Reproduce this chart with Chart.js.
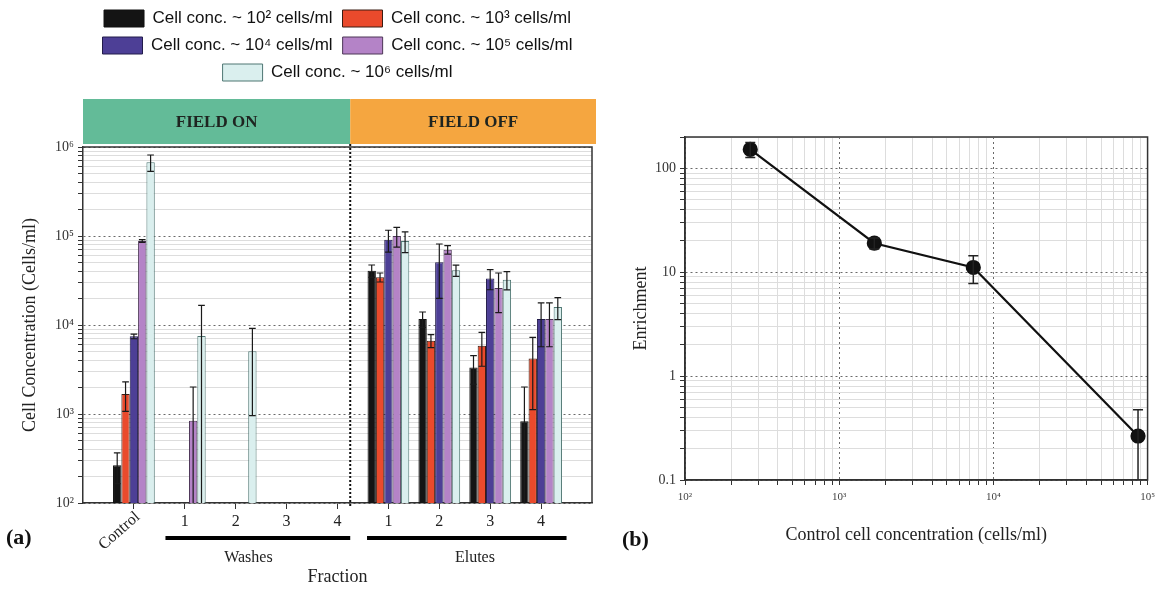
<!DOCTYPE html>
<html>
<head>
<meta charset="utf-8">
<title>Cell concentration and enrichment</title>
<script src="https://cdn.jsdelivr.net/npm/chart.js@4.4.1/dist/chart.umd.min.js"></script>
<style>
    html, body { margin: 0; padding: 0; background: #fff; }
    #wrap { position: relative; width: 1161px; height: 591px; }
    #left { position: absolute; left: 0; top: 0; width: 600px; height: 591px; }
    #right { position: absolute; left: 600px; top: 0; width: 561px; height: 591px; }
</style>
</head>
<body>
<div id="wrap">
    <div id="left"><canvas id="barChart"></canvas></div>
    <div id="right"><canvas id="lineChart"></canvas></div>
</div>
<script>
// ---- data (a): cell concentration per fraction ----
const fractions = ['Control', '1', '2', '3', '4', '1', '2', '3', '4'];
const fractionPos = [1, 2, 3, 4, 5, 6, 7, 8, 9];
const seriesLabels = [
    'Cell conc. ~ 10² cells/ml',
    'Cell conc. ~ 10³ cells/ml',
    'Cell conc. ~ 10⁴ cells/ml',
    'Cell conc. ~ 10⁵ cells/ml',
    'Cell conc. ~ 10⁶ cells/ml',
];
const conc1e2 = [265, null, null, null, null, 40700, 11700, 3340, 830];
const conc1e2Err = [100, null, null, null, null, 6500, 2300, 1180, 1180];
const conc1e3 = [1680, null, null, null, null, 34400, 6670, 5860, 4190];
const conc1e3Err = [610, null, null, null, null, 4000, 1110, 2420, 3070];
const conc1e4 = [7460, null, null, null, null, 91000, 50600, 33400, 11700];
const conc1e4Err = [450, null, null, null, null, 25000, 30700, 8500, 6000];
const conc1e5 = [88000, 840, null, null, null, 100000, 70200, 26100, 11700];
const conc1e5Err = [3000, 1170, null, null, null, 25000, 7700, 12300, 6000];
const conc1e6 = [673000, 7500, 5060, null, null, 88000, 41100, 32300, 15900];
const conc1e6Err = [140000, 9100, 4100, null, null, 23000, 6000, 7500, 4400];
const phaseLabels = ['FIELD ON', 'FIELD OFF'];
const groupLabels = ['Washes', 'Elutes'];

// ---- data (b): enrichment vs control concentration ----
const controlConc = [265, 1690, 7410, 86700];
const enrichment = [152, 19.0, 11.1, 0.265];
const enrichmentErr = [25, 2.3, 3.3, 0.21];

const SERIF = '"Liberation Serif", "Times New Roman", serif';
const SANS = '"Liberation Sans", Arial, sans-serif';
const SUP = { 0: '⁰', 1: '¹', 2: '²', 3: '³', 4: '⁴', 5: '⁵', 6: '⁶' };

const isPow10 = (v) => Math.abs(Math.log10(v) - Math.round(Math.log10(v))) < 1e-9;

// log axes: keep only 1..9 x 10^n ticks (drop the 1.5 steps)
function keepWholeMantissa(scale) {
    scale.ticks = scale.ticks.filter((t) => {
        const m = t.value / Math.pow(10, Math.floor(Math.log10(t.value) + 1e-9));
        return Math.abs(m - Math.round(m)) < 1e-6;
    });
}
const gridColor = (c) => (c.tick && isPow10(c.tick.value) ? '#6a6a6a' : '#dddddd');
const gridDash = (c) => (c.tick && isPow10(c.tick.value) ? [2, 3] : []);

Chart.defaults.font.family = SERIF;
Chart.defaults.color = '#222';

// ---------- panel (a) ----------
const barColors = ['#141414', '#ea4a2c', '#4d3f96', '#b483c7', '#daefee'];
const barBorders = ['#111', '#3a1c12', '#221c4a', '#4d3657', '#4f7773'];
const barValues = [conc1e2, conc1e3, conc1e4, conc1e5, conc1e6];
const barErrs = [conc1e2Err, conc1e3Err, conc1e4Err, conc1e5Err, conc1e6Err];

const legendSpace = {
    id: 'legendSpace',
    beforeInit(chart) {
        const fit = chart.legend.fit;
        chart.legend.fit = function () {
            fit.bind(chart.legend)();
            this.height = 147;
        };
    },
};

const barErrors = {
    id: 'barErrors',
    afterDatasetsDraw(chart) {
        const { ctx, chartArea, scales } = chart;
        const y = scales.y;
        ctx.save();
        ctx.strokeStyle = '#1a1a1a';
        ctx.lineWidth = 1.2;
        chart.data.datasets.forEach((ds, i) => {
            const meta = chart.getDatasetMeta(i);
            meta.data.forEach((bar, j) => {
                const v = ds.data[j].y;
                const e = ds.errors[j];
                if (v == null || e == null) return;
                const top = y.getPixelForValue(v + e);
                const lowVisible = v - e > y.min;
                const low = lowVisible ? y.getPixelForValue(v - e) : chartArea.bottom;
                const half = bar.width * 0.4;
                ctx.beginPath();
                ctx.moveTo(bar.x, low);
                ctx.lineTo(bar.x, top);
                ctx.moveTo(bar.x - half, top);
                ctx.lineTo(bar.x + half, top);
                if (lowVisible) {
                    ctx.moveTo(bar.x - half, low);
                    ctx.lineTo(bar.x + half, low);
                }
                ctx.stroke();
            });
        });
        ctx.restore();
    },
};

const fractionDecor = {
    id: 'fractionDecor',
    afterDraw(chart, args, opts) {
        const { ctx, chartArea } = chart;
        const x = chart.scales.x;
        const split = x.getPixelForValue(opts.splitAt);
        ctx.save();

        // phase header bands
        const bandTop = chartArea.top - 48;
        const bandH = 45;
        ctx.fillStyle = '#63bb98';
        ctx.fillRect(chartArea.left, bandTop, split - chartArea.left, bandH);
        ctx.fillStyle = '#f5a640';
        ctx.fillRect(split, bandTop, chartArea.right + 4 - split, bandH);
        ctx.fillStyle = '#1e2420';
        ctx.font = 'bold 17px ' + SERIF;
        ctx.textAlign = 'center';
        ctx.textBaseline = 'middle';
        ctx.fillText(phaseLabels[0], (chartArea.left + split) / 2, bandTop + bandH / 2 + 1);
        ctx.fillText(phaseLabels[1], (split + chartArea.right + 4) / 2, bandTop + bandH / 2 + 1);

        // frame top/right
        ctx.strokeStyle = '#333';
        ctx.lineWidth = 1.5;
        ctx.beginPath();
        ctx.moveTo(chartArea.left, chartArea.top);
        ctx.lineTo(chartArea.right, chartArea.top);
        ctx.lineTo(chartArea.right, chartArea.bottom);
        ctx.stroke();

        // dotted divider
        ctx.strokeStyle = '#111';
        ctx.lineWidth = 2;
        ctx.setLineDash([2, 2]);
        ctx.beginPath();
        ctx.moveTo(split, chartArea.top - 3);
        ctx.lineTo(split, chartArea.bottom + 4);
        ctx.stroke();
        ctx.setLineDash([]);

        // category labels
        ctx.fillStyle = '#222';
        ctx.font = '16px ' + SERIF;
        fractions.forEach((lab, i) => {
            const px = x.getPixelForValue(fractionPos[i]);
            if (i === 0) {
                ctx.save();
                ctx.translate(px + 4, chartArea.bottom + 12);
                ctx.rotate(-Math.PI / 4.4);
                ctx.textAlign = 'right';
                ctx.textBaseline = 'middle';
                ctx.fillText(lab, 0, 0);
                ctx.restore();
            } else {
                ctx.textAlign = 'center';
                ctx.textBaseline = 'middle';
                ctx.fillText(lab, px, chartArea.bottom + 19);
            }
        });

        // group underlines + labels
        opts.groups.forEach((g, i) => {
            ctx.strokeStyle = '#000';
            ctx.lineWidth = 4;
            ctx.beginPath();
            ctx.moveTo(x.getPixelForValue(g.from), chartArea.bottom + 35);
            ctx.lineTo(x.getPixelForValue(g.to), chartArea.bottom + 35);
            ctx.stroke();
            ctx.fillStyle = '#222';
            ctx.font = '16px ' + SERIF;
            ctx.textAlign = 'center';
            ctx.textBaseline = 'middle';
            ctx.fillText(groupLabels[i], x.getPixelForValue(g.labelAt), chartArea.bottom + 55);
        });

        // panel tag
        ctx.fillStyle = '#111';
        ctx.font = 'bold 22px ' + SERIF;
        ctx.textAlign = 'left';
        ctx.fillText('(a)', 6, chartArea.bottom + 35);
        ctx.restore();
    },
};

new Chart(document.getElementById('barChart'), {
    type: 'bar',
    data: {
        datasets: barValues.map((vals, i) => ({
            label: seriesLabels[i],
            data: vals.map((v, j) => ({ x: fractionPos[j], y: v })),
            errors: barErrs[i],
            backgroundColor: barColors[i],
            borderColor: barBorders[i],
            borderWidth: 1,
            categoryPercentage: 0.82,
            barPercentage: 1,
        })),
    },
    options: {
        responsive: true,
        maintainAspectRatio: false,
        animation: false,
        layout: { padding: { left: 0, right: 8, top: 0, bottom: 0 } },
        plugins: {
            legend: {
                position: 'top',
                fullSize: false,
                labels: {
                    boxWidth: 40,
                    boxHeight: 17,
                    padding: 10,
                    color: '#111',
                    font: { family: SANS, size: 17 },
                },
            },
            tooltip: { enabled: false },
            fractionDecor: {
                splitAt: 5.25,
                groups: [
                    { from: 1.62, to: 5.25, labelAt: 3.25 },
                    { from: 5.58, to: 9.5, labelAt: 7.7 },
                ],
            },
        },
        scales: {
            x: {
                type: 'linear',
                min: 0,
                max: 10,
                offset: false,
                afterBuildTicks: (s) => {
                    s.ticks = fractionPos.map((v) => ({ value: v }));
                },
                afterFit: (s) => {
                    s.height = 88;
                },
                ticks: { display: false },
                grid: { offset: false, drawOnChartArea: false, drawTicks: true, tickLength: 6, tickColor: '#333' },
                border: { color: '#333', width: 1.5 },
                title: {
                    display: true,
                    text: 'Fraction',
                    font: { family: SERIF, size: 18 },
                    color: '#222',
                    padding: { top: 0, bottom: 3 },
                },
            },
            y: {
                type: 'logarithmic',
                min: 100,
                max: 1000000,
                afterBuildTicks: keepWholeMantissa,
                afterFit: (s) => {
                    s.width = 83;
                },
                ticks: {
                    autoSkip: false,
                    padding: 4,
                    font: { family: SERIF, size: 14 },
                    color: '#333',
                    callback: (v) => (isPow10(v) ? '10' + SUP[Math.round(Math.log10(v))] : ''),
                },
                grid: { color: gridColor, lineWidth: 1, tickLength: 5, tickColor: '#333' },
                border: { color: '#333', width: 1.5, dash: gridDash },
                title: {
                    display: true,
                    text: 'Cell Concentration (Cells/ml)',
                    font: { family: SERIF, size: 18 },
                    color: '#222',
                    padding: { top: 19, bottom: 0 },
                },
            },
        },
    },
    plugins: [legendSpace, barErrors, fractionDecor],
});

// ---------- panel (b) ----------
const pointErrors = {
    id: 'pointErrors',
    afterDatasetsDraw(chart) {
        const { ctx, chartArea } = chart;
        const y = chart.scales.y;
        const meta = chart.getDatasetMeta(0);
        ctx.save();
        ctx.strokeStyle = '#222';
        ctx.lineWidth = 1.5;
        meta.data.forEach((pt, j) => {
            const v = enrichment[j];
            const e = enrichmentErr[j];
            const top = y.getPixelForValue(v + e);
            const lowVisible = v - e > y.min;
            const low = lowVisible ? y.getPixelForValue(v - e) : chartArea.bottom;
            ctx.beginPath();
            ctx.moveTo(pt.x, low);
            ctx.lineTo(pt.x, top);
            ctx.moveTo(pt.x - 5, top);
            ctx.lineTo(pt.x + 5, top);
            if (lowVisible) {
                ctx.moveTo(pt.x - 5, low);
                ctx.lineTo(pt.x + 5, low);
            }
            ctx.stroke();
        });
        ctx.restore();
    },
    afterDraw(chart) {
        const { ctx, chartArea } = chart;
        ctx.save();
        ctx.strokeStyle = '#333';
        ctx.lineWidth = 1.5;
        ctx.strokeRect(chartArea.left, chartArea.top, chartArea.right - chartArea.left, chartArea.bottom - chartArea.top);
        ctx.fillStyle = '#111';
        ctx.font = 'bold 22px ' + SERIF;
        ctx.textAlign = 'left';
        ctx.textBaseline = 'middle';
        ctx.fillText('(b)', 22, 540);
        ctx.restore();
    },
};

new Chart(document.getElementById('lineChart'), {
    type: 'line',
    data: {
        datasets: [
            {
                label: 'Enrichment',
                data: controlConc.map((c, i) => ({ x: c, y: enrichment[i] })),
                borderColor: '#111',
                borderWidth: 2.2,
                pointRadius: 6.5,
                pointBackgroundColor: '#111',
                pointBorderColor: '#111',
                tension: 0,
            },
        ],
    },
    options: {
        responsive: true,
        maintainAspectRatio: false,
        animation: false,
        layout: { padding: { left: 0, right: 13, top: 137, bottom: 0 } },
        plugins: { legend: { display: false }, tooltip: { enabled: false } },
        scales: {
            x: {
                type: 'logarithmic',
                min: 100,
                max: 100000,
                afterBuildTicks: keepWholeMantissa,
                afterFit: (s) => {
                    s.height = 111;
                },
                ticks: {
                    autoSkip: false,
                    maxRotation: 0,
                    padding: 6,
                    font: { family: SERIF, size: 11 },
                    color: '#444',
                    callback: (v) => (isPow10(v) ? '10' + SUP[Math.round(Math.log10(v))] : ''),
                },
                grid: { color: gridColor, lineWidth: 1, tickLength: 5, tickColor: '#333' },
                border: { color: '#333', width: 1.5, dash: gridDash },
                title: {
                    display: true,
                    text: 'Control cell concentration (cells/ml)',
                    font: { family: SERIF, size: 18 },
                    color: '#222',
                    padding: { top: 0, bottom: 45 },
                },
            },
            y: {
                type: 'logarithmic',
                min: 0.1,
                max: 200,
                afterBuildTicks: keepWholeMantissa,
                afterFit: (s) => {
                    s.width = 85;
                },
                ticks: {
                    autoSkip: false,
                    padding: 4,
                    font: { family: SERIF, size: 14 },
                    color: '#333',
                    callback: (v) => (isPow10(v) ? String(Math.round(v * 10) / 10) : ''),
                },
                grid: { color: gridColor, lineWidth: 1, tickLength: 5, tickColor: '#333' },
                border: { color: '#333', width: 1.5, dash: gridDash },
                title: {
                    display: true,
                    text: 'Enrichment',
                    font: { family: SERIF, size: 18 },
                    color: '#222',
                    padding: { top: 30, bottom: 0 },
                },
            },
        },
    },
    plugins: [pointErrors],
});
</script>
</body>
</html>
